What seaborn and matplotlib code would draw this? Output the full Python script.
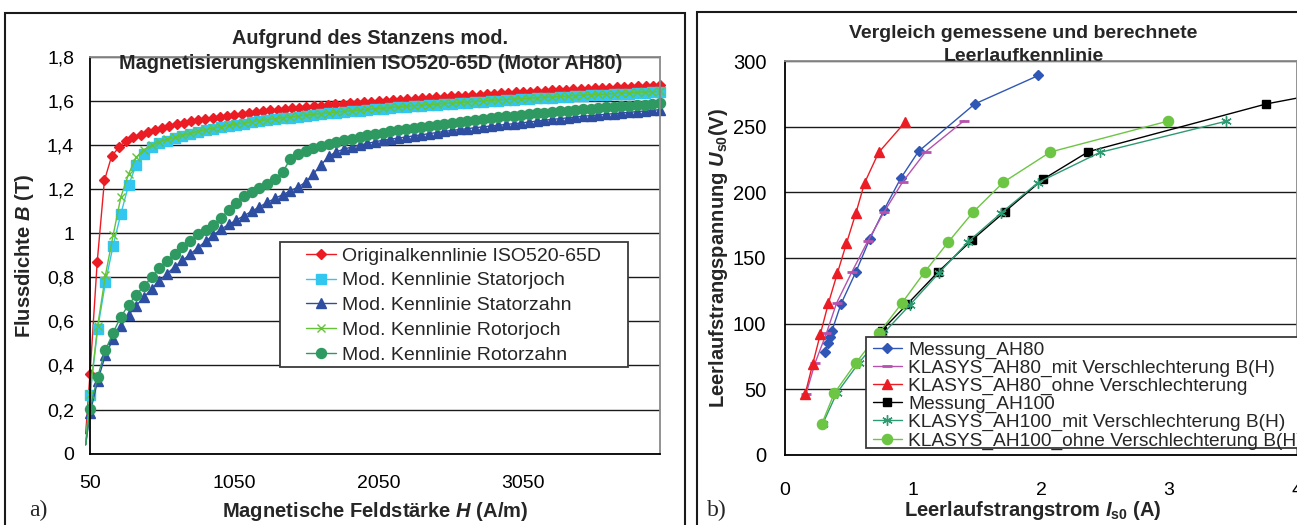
import matplotlib
matplotlib.use("Agg")
import matplotlib.pyplot as plt
import seaborn as sns
from matplotlib.patches import Rectangle
from matplotlib.lines import Line2D

# ---------------- data: panel a) ----------------
H_orig = [20, 50, 100, 150, 200, 250, 300, 350, 400, 450, 500, 550, 600, 650, 700, 750, 800, 850, 900, 950,
          1000, 1050, 1100, 1150, 1200, 1250, 1300, 1350, 1400, 1450, 1500, 1550, 1600, 1650, 1700, 1750,
          1800, 1850, 1900, 1950, 2000, 2050, 2100, 2150, 2200, 2250, 2300, 2350, 2400, 2450, 2500, 2550,
          2600, 2650, 2700, 2750, 2800, 2850, 2900, 2950, 3000, 3050, 3100, 3150, 3200, 3250, 3300, 3350,
          3400, 3450, 3500, 3550, 3600, 3650, 3700, 3750, 3800, 3850, 3900, 3950, 4000]
B_orig = [0.09, 0.36, 0.87, 1.24, 1.35, 1.39, 1.42, 1.435, 1.448, 1.46, 1.47, 1.48, 1.488, 1.495, 1.502, 1.508,
          1.514, 1.519, 1.524, 1.529, 1.534, 1.538, 1.542, 1.546, 1.55, 1.554, 1.558, 1.561, 1.564, 1.567,
          1.57, 1.573, 1.576, 1.579, 1.582, 1.585, 1.587, 1.59, 1.592, 1.595, 1.597, 1.6, 1.602, 1.604, 1.606,
          1.609, 1.611, 1.613, 1.615, 1.617, 1.619, 1.621, 1.623, 1.625, 1.627, 1.629, 1.631, 1.633, 1.635,
          1.637, 1.639, 1.641, 1.643, 1.645, 1.647, 1.648, 1.65, 1.652, 1.653, 1.655, 1.657, 1.658, 1.66,
          1.661, 1.663, 1.664, 1.666, 1.667, 1.669, 1.67, 1.672]

H_mod = [20, 50, 103, 157, 210, 264, 317, 370, 424, 477, 530, 584, 637, 691, 744, 797, 851, 904, 957, 1011,
         1064, 1118, 1171, 1224, 1278, 1331, 1384, 1438, 1491, 1545, 1598, 1651, 1705, 1758, 1812, 1865,
         1918, 1972, 2025, 2078, 2132, 2185, 2239, 2292, 2345, 2399, 2452, 2505, 2559, 2612, 2666, 2719,
         2772, 2826, 2879, 2932, 2986, 3039, 3093, 3146, 3199, 3253, 3306, 3360, 3413, 3466, 3520, 3573,
         3626, 3680, 3733, 3787, 3840, 3893, 3947, 4000]
B_statorjoch = [0.04, 0.265, 0.566, 0.777, 0.943, 1.088, 1.218, 1.31, 1.36, 1.39, 1.408, 1.421, 1.432, 1.442,
                1.451, 1.459, 1.467, 1.474, 1.481, 1.487, 1.493, 1.498, 1.503, 1.508, 1.513, 1.517, 1.521,
                1.525, 1.529, 1.533, 1.537, 1.54, 1.544, 1.547, 1.55, 1.553, 1.556, 1.559, 1.562, 1.565, 1.568,
                1.571, 1.573, 1.576, 1.578, 1.581, 1.583, 1.586, 1.588, 1.591, 1.593, 1.595, 1.597, 1.6, 1.602,
                1.604, 1.606, 1.608, 1.61, 1.612, 1.614, 1.616, 1.618, 1.62, 1.622, 1.624, 1.626, 1.627, 1.629,
                1.631, 1.633, 1.634, 1.636, 1.638, 1.639, 1.641]
B_statorzahn = [0.04, 0.183, 0.33, 0.448, 0.519, 0.579, 0.629, 0.672, 0.71, 0.748, 0.785, 0.817, 0.848, 0.877,
                0.905, 0.935, 0.963, 0.992, 1.018, 1.04, 1.06, 1.08, 1.1, 1.12, 1.14, 1.158, 1.175, 1.192,
                1.21, 1.232, 1.27, 1.31, 1.35, 1.37, 1.382, 1.392, 1.4, 1.408, 1.415, 1.422, 1.427, 1.432,
                1.437, 1.442, 1.447, 1.452, 1.457, 1.462, 1.467, 1.471, 1.475, 1.479, 1.483, 1.487, 1.49,
                1.494, 1.497, 1.501, 1.505, 1.509, 1.513, 1.517, 1.52, 1.524, 1.527, 1.531, 1.534, 1.537,
                1.54, 1.543, 1.546, 1.549, 1.552, 1.555, 1.558, 1.561]
B_rotorjoch = [0.04, 0.27, 0.58, 0.81, 0.99, 1.165, 1.268, 1.345, 1.38, 1.4, 1.415, 1.427, 1.435, 1.445, 1.454,
               1.462, 1.47, 1.477, 1.484, 1.49, 1.496, 1.501, 1.506, 1.511, 1.516, 1.52, 1.524, 1.528, 1.532,
               1.536, 1.54, 1.543, 1.547, 1.55, 1.553, 1.556, 1.559, 1.562, 1.565, 1.568, 1.571, 1.574, 1.576,
               1.579, 1.581, 1.584, 1.586, 1.589, 1.591, 1.594, 1.596, 1.598, 1.6, 1.603, 1.605, 1.607, 1.609,
               1.611, 1.613, 1.615, 1.617, 1.619, 1.621, 1.623, 1.625, 1.627, 1.629, 1.63, 1.632, 1.634,
               1.636, 1.637, 1.639, 1.641, 1.642, 1.644]
B_rotorzahn = [0.04, 0.201, 0.349, 0.47, 0.549, 0.621, 0.675, 0.72, 0.761, 0.8, 0.841, 0.876, 0.906, 0.936,
               0.966, 0.997, 1.015, 1.038, 1.068, 1.106, 1.139, 1.169, 1.189, 1.204, 1.224, 1.245, 1.277,
               1.336, 1.36, 1.372, 1.385, 1.395, 1.405, 1.414, 1.422, 1.43, 1.437, 1.444, 1.45, 1.456, 1.462,
               1.467, 1.472, 1.477, 1.482, 1.487, 1.492, 1.497, 1.502, 1.507, 1.511, 1.515, 1.519, 1.523,
               1.527, 1.531, 1.534, 1.538, 1.541, 1.545, 1.548, 1.551, 1.554, 1.557, 1.56, 1.563, 1.566,
               1.569, 1.571, 1.574, 1.577, 1.579, 1.582, 1.584, 1.587, 1.589]

labels_a = ["Originalkennlinie ISO520-65D", "Mod. Kennlinie Statorjoch", "Mod. Kennlinie Statorzahn",
            "Mod. Kennlinie Rotorjoch", "Mod. Kennlinie Rotorzahn"]
xticks_a = [50, 1050, 2050, 3050]
yticks_a = [0, 0.2, 0.4, 0.6, 0.8, 1.0, 1.2, 1.4, 1.6, 1.8]
yticklabels_a = ["0", "0,2", "0,4", "0,6", "0,8", "1", "1,2", "1,4", "1,6", "1,8"]

# ---------------- data: panel b) ----------------
I_mess80 = [0.313, 0.339, 0.352, 0.365, 0.438, 0.554, 0.662, 0.773, 0.905, 1.043, 1.483, 1.98]
U_mess80 = [78.5, 85, 89.5, 94, 115, 139.4, 164.4, 186.6, 210.9, 231.3, 267.5, 289.2]
I_mit80 = [0.164, 0.234, 0.323, 0.403, 0.523, 0.646, 0.776, 0.92, 1.10, 1.40]
U_mit80 = [46.2, 69.6, 92.4, 115.6, 139.4, 162.7, 185.4, 208.1, 231.1, 254.8]
I_ohne80 = [0.157, 0.216, 0.277, 0.339, 0.41, 0.48, 0.554, 0.622, 0.732, 0.938]
U_ohne80 = [46, 68.9, 92.2, 115.4, 138.6, 161.1, 184.3, 207.3, 230.5, 253.5]
I_mess100 = [0.754, 0.957, 1.197, 1.458, 1.719, 2.014, 2.371, 3.761, 4.6]
U_mess100 = [94.5, 114.9, 139.4, 163.4, 185.4, 209.9, 231.1, 267.5, 283]
I_mit100 = [0.294, 0.404, 0.575, 0.763, 0.978, 1.203, 1.43, 1.691, 1.977, 2.46, 3.447]
U_mit100 = [23.3, 46.8, 69.7, 91.9, 114.4, 138.6, 162.3, 184.5, 207.5, 230.5, 254.3]
I_ohne100 = [0.287, 0.385, 0.555, 0.737, 0.912, 1.092, 1.277, 1.47, 1.707, 2.073, 2.989]
U_ohne100 = [23.3, 46.8, 70.1, 93.0, 115.4, 139.4, 162.3, 185, 207.8, 230.8, 254.3]

labels_b = ["Messung_AH80", "KLASYS_AH80_mit Verschlechterung B(H)", "KLASYS_AH80_ohne Verschlechterung",
            "Messung_AH100", "KLASYS_AH100_mit Verschlechterung B(H)", "KLASYS_AH100_ohne Verschlechterung B(H)"]
xticks_b = [0, 1, 2, 3, 4]
yticks_b = [0, 50, 100, 150, 200, 250, 300]

# ---------------- style ----------------
sns.set_style("white")
plt.rcParams['font.family'] = ['Liberation Sans', 'DejaVu Sans']
plt.rcParams['mathtext.fontset'] = 'custom'
plt.rcParams['mathtext.rm'] = 'Liberation Sans:bold'
plt.rcParams['mathtext.it'] = 'Liberation Sans:italic:bold'
plt.rcParams['mathtext.bf'] = 'Liberation Sans:bold'

W, HP = 1297, 525
fig = plt.figure(figsize=(W / 100, HP / 100), dpi=100)
fig.patch.set_facecolor("white")


def fx(px):
    return px / W


def fy(py):
    return 1 - py / HP


axL = fig.add_axes([fx(90), fy(453.6), fx(660) - fx(90), fy(57) - fy(453.6)])
axR = fig.add_axes([fx(785), fy(454.6), fx(1297) - fx(785), fy(61.3) - fy(454.6)])

RED = "#EC1C24"
CYAN = "#33C6EE"
DBLUE = "#2E4EA2"
LGREEN = "#62C436"
DGREEN = "#2E9A62"
MBLUE = "#3057B5"
MAGENTA = "#B652AE"
TEAL = "#2E9A72"
LGREEN2 = "#6CC644"

series_a = [
    (H_orig, B_orig, RED, "D", 5.6),
    (H_mod, B_statorjoch, CYAN, "s", 7.0),
    (H_mod, B_statorzahn, DBLUE, "^", 7.8),
    (H_mod, B_rotorjoch, LGREEN, "x", 6.2),
    (H_mod, B_rotorzahn, DGREEN, "o", 7.2),
]
handles_a = []
for xs, ys, col, mk, ms in series_a:
    sns.lineplot(x=xs, y=ys, ax=axL, color=col, marker=mk, markersize=ms, mec=col, mfc=col,
                 mew=1.0, lw=1.0, sort=False, markevery=list(range(1, len(xs))), clip_on=False)
    handles_a.append(Line2D([], [], color=col, marker=mk, markersize=ms, mec=col, mfc=col, mew=1.0, lw=1.0))

series_b = [
    (I_mess80, U_mess80, MBLUE, "D", 5.0, 1.0),
    (I_mit80, U_mit80, MAGENTA, "_", 7.5, 2.0),
    (I_ohne80, U_ohne80, RED, "^", 7.8, 1.0),
    (I_mess100, U_mess100, "black", "s", 6.3, 1.0),
    (I_mit100, U_mit100, TEAL, (6, 2, 0), 7.5, 1.0),
    (I_ohne100, U_ohne100, LGREEN2, "o", 7.3, 1.0),
]
handles_b = []
for xs, ys, col, mk, ms, mw in series_b:
    sns.lineplot(x=xs, y=ys, ax=axR, color=col, marker=mk, markersize=ms, mec=col, mfc=col,
                 mew=mw, lw=1.0, sort=False)
    handles_b.append(Line2D([], [], color=col, marker=mk, markersize=ms, mec=col, mfc=col, mew=mw, lw=1.0))

# ---------------- axes formatting ----------------
for ax in (axL, axR):
    ax.set_xlabel("")
    ax.set_ylabel("")
    ax.yaxis.grid(True, color="#1a1a1a", lw=1.0)
    ax.xaxis.grid(False)
    ax.set_axisbelow(True)
    for s in ("left", "bottom"):
        ax.spines[s].set_color("black")
        ax.spines[s].set_linewidth(1.3)
    for s in ("top", "right"):
        ax.spines[s].set_color("#8a8a8a")
        ax.spines[s].set_linewidth(1.3)
    ax.tick_params(axis="both", direction="out", length=3.5, width=1.0, color="black",
                   labelsize=14, labelcolor="black")

axL.set_xlim(50, 4000)
axL.set_ylim(0, 1.8)
axL.set_xticks(xticks_a)
axL.set_xticklabels([str(v) for v in xticks_a])
axL.set_yticks(yticks_a)
axL.set_yticklabels(yticklabels_a)
axL.tick_params(axis="x", pad=12)
axL.tick_params(axis="y", pad=8)

axR.set_xlim(0, 4)
axR.set_ylim(0, 300)
axR.set_xticks(xticks_b)
axR.set_xticklabels([str(v) for v in xticks_b])
axR.set_yticks(yticks_b)
axR.set_yticklabels([str(v) for v in yticks_b])
axR.tick_params(axis="x", pad=16)
axR.tick_params(axis="y", pad=10, labelsize=14.5)

# ---------------- legends ----------------
axL.add_patch(Rectangle((fx(280), fy(367)), fx(628) - fx(280), fy(242) - fy(367),
                        transform=fig.transFigure, facecolor="white", edgecolor="#3a3a3a",
                        lw=1.3, zorder=4, clip_on=False))
legA = axL.legend(handles_a, labels_a, loc="upper left", bbox_to_anchor=(fx(306), fy(247)),
                  bbox_transform=fig.transFigure, frameon=False, fontsize=14, borderpad=0,
                  borderaxespad=0, handlelength=1.55, handletextpad=0.3, labelspacing=0.37)
legA.set_zorder(5)

axR.add_patch(Rectangle((fx(866), fy(448)), fx(1320) - fx(866), fy(336.5) - fy(448),
                        transform=fig.transFigure, facecolor="white", edgecolor="#3a3a3a",
                        lw=1.3, zorder=4, clip_on=False))
legB = axR.legend(handles_b, labels_b, loc="upper left", bbox_to_anchor=(fx(873), fy(341)),
                  bbox_transform=fig.transFigure, frameon=False, fontsize=13.8, borderpad=0,
                  borderaxespad=0, handlelength=1.5, handletextpad=0.32, labelspacing=0.03)
legB.set_zorder(5)

# ---------------- titles & labels ----------------
fig.text(fx(370), fy(43.5), "Aufgrund des Stanzens mod.", ha="center", va="baseline",
         fontsize=14.3, fontweight="bold")
fig.text(fx(370.5), fy(69.3), "Magnetisierungskennlinien ISO520-65D (Motor AH80)", ha="center",
         va="baseline", fontsize=14.3, fontweight="bold")
fig.text(fx(1023.5), fy(37.8), "Vergleich gemessene und berechnete", ha="center", va="baseline",
         fontsize=14, fontweight="bold")
fig.text(fx(1023.5), fy(61.3), "Leerlaufkennlinie", ha="center", va="baseline",
         fontsize=14, fontweight="bold")

fig.text(fx(375), fy(517), "Magnetische Feldstärke $H$ (A/m)", ha="center", va="baseline",
         fontsize=14.5, fontweight="bold")
fig.text(fx(25), fy(256), "Flussdichte $B$ (T)", ha="center", va="center", rotation=90,
         fontsize=14.5, fontweight="bold")
fig.text(fx(1033), fy(516), "Leerlaufstrangstrom $I_{\\mathrm{s0}}$ (A)", ha="center", va="baseline",
         fontsize=14.5, fontweight="bold")
fig.text(fx(719), fy(258), "Leerlaufstrangspannung $U_{\\mathrm{s0}}$(V)", ha="center", va="center",
         rotation=90, fontsize=14.5, fontweight="bold")

fig.text(fx(29.5), fy(516), "a)", ha="left", va="baseline", fontsize=17, family="Liberation Serif")
fig.text(fx(707), fy(516), "b)", ha="left", va="baseline", fontsize=17, family="Liberation Serif")

# panel frames
fig.add_artist(Rectangle((fx(5), fy(535)), fx(685) - fx(5), fy(13) - fy(535),
                         transform=fig.transFigure, fill=False, edgecolor="#1a1a1a", lw=1.5))
fig.add_artist(Rectangle((fx(697), fy(535)), fx(1310) - fx(697), fy(12) - fy(535),
                         transform=fig.transFigure, fill=False, edgecolor="#1a1a1a", lw=1.5))

fig.savefig("out.png", dpi=100)
